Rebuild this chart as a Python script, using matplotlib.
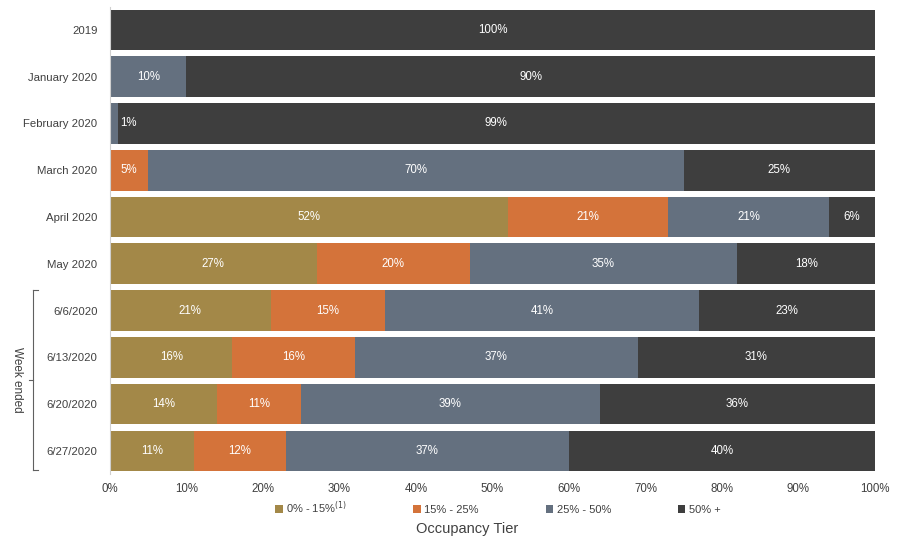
import matplotlib.pyplot as plt
from matplotlib.lines import Line2D
from matplotlib.patches import Patch

plt.rcParams['font.family'] = ['Liberation Sans', 'DejaVu Sans']

periods = ['2019', 'January 2020', 'February 2020', 'March 2020', 'April 2020',
           'May 2020', '6/6/2020', '6/13/2020', '6/20/2020', '6/27/2020']
tier_0_15 = [0, 0, 0, 0, 52, 27, 21, 16, 14, 11]
tier_15_25 = [0, 0, 0, 5, 21, 20, 15, 16, 11, 12]
tier_25_50 = [0, 10, 1, 70, 21, 35, 41, 37, 39, 37]
tier_50_plus = [100, 90, 99, 25, 6, 18, 23, 31, 36, 40]

tiers = ['0% - 15%$^{(1)}$', '15% - 25%', '25% - 50%', '50% +']
colors = ['#A38848', '#D4733A', '#64707F', '#3E3E3E']
series = [tier_0_15, tier_15_25, tier_25_50, tier_50_plus]

fig = plt.figure(figsize=(9, 5.42), dpi=100)
ax = fig.add_axes([0.1222, 0.125, 0.85, 0.863])

y = list(range(len(periods)))
left = [0] * len(periods)
for vals, col in zip(series, colors):
    ax.barh(y, vals, left=left, height=0.87, color=col, edgecolor='none')
    for i, v in enumerate(vals):
        if v > 0:
            if v < 3:
                ax.text(left[i] + v + 0.3, i, f'{v}%', ha='left', va='center',
                        color='white', fontsize=8.3)
            else:
                ax.text(left[i] + v / 2, i, f'{v}%', ha='center', va='center',
                        color='white', fontsize=8.3)
    left = [a + b for a, b in zip(left, vals)]

ax.set_xlim(0, 100)
ax.set_ylim(len(periods) - 0.5, -0.5)
ax.set_yticks(y)
ax.set_yticklabels(periods, fontsize=8.2, color='#404040')
ax.set_xticks(range(0, 101, 10))
ax.set_xticklabels([f'{t}%' for t in range(0, 101, 10)], fontsize=8.3, color='#404040')
ax.tick_params(axis='y', length=0, pad=9)
ax.tick_params(axis='x', length=0, pad=6)
for s in ['top', 'right', 'bottom']:
    ax.spines[s].set_visible(False)
ax.spines['left'].set_color('#d0d0d0')

# bracket for weekly rows
bx = 33 / 900
y_top = 1 - 290 / 542
y_bot = 1 - 470 / 542
y_mid = (y_top + y_bot) / 2
fig.add_artist(Line2D([bx, bx], [y_bot, y_top], color='#606060', lw=0.8))
fig.add_artist(Line2D([bx, bx + 0.005], [y_top, y_top], color='#606060', lw=0.8))
fig.add_artist(Line2D([bx, bx + 0.005], [y_bot, y_bot], color='#606060', lw=0.8))
fig.add_artist(Line2D([bx - 0.005, bx], [y_mid, y_mid], color='#606060', lw=0.8))
fig.text(17 / 900, y_mid, 'Week ended', rotation=270, ha='center', va='center',
         fontsize=8.5, color='#404040')

handles = [Patch(facecolor=c, edgecolor='none') for c in colors]
fig.legend(handles, tiers, loc='center', bbox_to_anchor=(0.553, 1 - 508 / 542),
           ncol=4, frameon=False, fontsize=8, handlelength=0.7, handleheight=0.7,
           handletextpad=0.3, columnspacing=6, labelcolor='#404040')
fig.text(0.519, 1 - 529 / 542, 'Occupancy Tier', ha='center', va='center',
         fontsize=10.5, color='#404040')

plt.savefig('out.png', dpi=100)
plt.close()
